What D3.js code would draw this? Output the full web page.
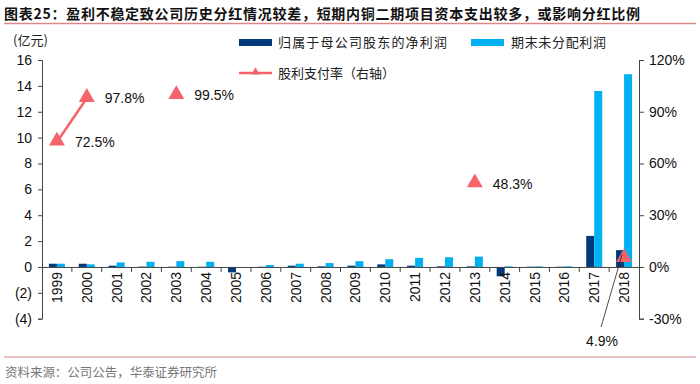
<!DOCTYPE html>
<html>
<head>
<meta charset="utf-8">
<script src="https://cdn.jsdelivr.net/npm/d3@7"></script>
<style>
  body { margin: 0; background: #fff; }
  svg { display: block; font-family: "Liberation Sans", Arial, "Noto Sans CJK SC", sans-serif; }
  .cjk { font-family: "Noto Sans CJK SC", sans-serif; }
</style>
</head>
<body>
<div id="chart"></div>
<script>
// Chart data
const years = ['1999','2000','2001','2002','2003','2004','2005','2006','2007','2008',
               '2009','2010','2011','2012','2013','2014','2015','2016','2017','2018'];
const netProfit = [0.25, 0.25, 0.1, 0.03, 0.02, 0.02, -0.42, 0.02, 0.1, 0.05,
                   0.1, 0.2, 0.1, 0.05, 0.05, -0.72, 0.02, 0.02, 2.4, 1.3];
const retained = [0.25, 0.2, 0.35, 0.4, 0.45, 0.4, 0.0, 0.15, 0.25, 0.3,
                  0.45, 0.6, 0.7, 0.75, 0.8, 0.05, 0.05, 0.05, 13.6, 14.9];
const payout = [72.5, 97.8, null, null, 99.5, null, null, null, null, null,
                null, null, null, null, 48.3, null, null, null, null, 4.9];
const leftTicks = [-4, -2, 0, 2, 4, 6, 8, 10, 12, 14, 16];
const rightTicks = [-30, 0, 30, 60, 90, 120];

const title = '图表25：盈利不稳定致公司历史分红情况较差，短期内铜二期项目资本支出较多，或影响分红比例';
const source = '资料来源：公司公告，华泰证券研究所';

const W = 700, H = 384;
const darkBlue = '#003A7A', lightBlue = '#00B0F0', red = '#F4646A';

const svg = d3.select('#chart').append('svg')
  .attr('width', W).attr('height', H);

// title + rules
svg.append('text').attr('class', 'cjk')
  .attr('x', 4).attr('y', 19)
  .attr('font-size', 14).attr('font-weight', 'bold').attr('fill', '#111')
  .attr('textLength', 636).attr('lengthAdjust', 'spacing')
  .text(title);
svg.append('line').attr('x1', 4).attr('x2', 696).attr('y1', 23.5).attr('y2', 23.5)
  .attr('stroke', '#D98A86').attr('stroke-width', 1.5);
svg.append('line').attr('x1', 4).attr('x2', 696).attr('y1', 357).attr('y2', 357)
  .attr('stroke', '#D98A86').attr('stroke-width', 1.2);
svg.append('text').attr('class', 'cjk')
  .attr('x', 5).attr('y', 377)
  .attr('font-size', 12.5).attr('fill', '#777')
  .attr('textLength', 212).attr('lengthAdjust', 'spacing')
  .text(source);

// scales
const x0 = 42, x1 = 639;
const x = d3.scaleBand().domain(years).range([x0, x1]);
const yL = d3.scaleLinear().domain([-4, 16]).range([318.7, 60]);
const yR = d3.scaleLinear().domain([-30, 120]).range([318.7, 60]);

// unit label
svg.append('text').attr('class', 'cjk')
  .attr('x', 13).attr('y', 45).attr('font-size', 13).attr('fill', '#222')
  .text('(亿元)');

// left axis
const leftAxis = d3.axisLeft(yL).tickValues(leftTicks).tickSize(4)
  .tickFormat(d => d < 0 ? `(${-d})` : d);
const gl = svg.append('g').attr('transform', `translate(${x0},0)`).call(leftAxis);
gl.select('.domain').attr('stroke', '#444');
gl.selectAll('.tick line').attr('stroke', '#444');
gl.selectAll('.tick text').attr('font-size', 14).attr('fill', '#111')
  .attr('font-family', '"Liberation Sans", Arial, sans-serif').attr('x', -10);

// right axis
const rightAxis = d3.axisRight(yR).tickValues(rightTicks).tickSize(5)
  .tickFormat(d => d + '%');
const gr = svg.append('g').attr('transform', `translate(${x1},0)`).call(rightAxis);
gr.select('.domain').attr('stroke', '#444');
gr.selectAll('.tick line').attr('stroke', '#444');
gr.selectAll('.tick text').attr('font-size', 14).attr('fill', '#111')
  .attr('font-family', '"Liberation Sans", Arial, sans-serif').attr('x', 10);

// bars
const bw = 8;
svg.append('g').selectAll('rect.np').data(years).join('rect')
  .attr('x', d => x(d) + x.bandwidth() / 2 - bw)
  .attr('y', (d, i) => yL(Math.max(0, netProfit[i])))
  .attr('width', bw)
  .attr('height', (d, i) => Math.abs(yL(netProfit[i]) - yL(0)))
  .attr('fill', darkBlue);
svg.append('g').selectAll('rect.re').data(years).join('rect')
  .attr('x', d => x(d) + x.bandwidth() / 2)
  .attr('y', (d, i) => yL(Math.max(0, retained[i])))
  .attr('width', bw)
  .attr('height', (d, i) => Math.abs(yL(retained[i]) - yL(0)))
  .attr('fill', lightBlue);

// x axis at zero
const xAxis = d3.axisBottom(x).tickSize(0).tickFormat('');
const gx = svg.append('g').attr('transform', `translate(0,${yL(0)})`).call(xAxis);
gx.select('.domain').attr('stroke', '#444');
// ticks at band boundaries
const bounds = years.map(d => x(d)).slice(1);
gx.selectAll('line.bt').data(bounds).join('line')
  .attr('x1', d => d).attr('x2', d => d).attr('y1', 0).attr('y2', 5)
  .attr('stroke', '#444');
// rotated year labels
svg.append('g').selectAll('text.yr').data(years).join('text')
  .attr('transform', d => `translate(${x(d) + x.bandwidth() / 2 + 5},${yL(0) + 5}) rotate(-90)`)
  .attr('text-anchor', 'end')
  .attr('font-size', 14).attr('fill', '#111')
  .text(d => d);

// payout line (only adjacent values connected)
const line = d3.line()
  .defined(d => d.v != null)
  .x(d => x(d.yr) + x.bandwidth() / 2)
  .y(d => yR(d.v));
const pts = years.map((yr, i) => ({ yr, v: payout[i] }));
svg.append('path').datum(pts)
  .attr('d', line).attr('fill', 'none')
  .attr('stroke', red).attr('stroke-width', 2.5);

const tri = d3.symbol().type(d3.symbolTriangle).size(110);
const valid = pts.filter(d => d.v != null);
svg.append('g').selectAll('path.tri').data(valid).join('path')
  .attr('d', tri)
  .attr('transform', d => `translate(${x(d.yr) + x.bandwidth() / 2},${yR(d.v) - 1})`)
  .attr('fill', red);

// value labels
const lab = svg.append('g').attr('font-size', 14).attr('fill', '#111');
valid.forEach(d => {
  const cx = x(d.yr) + x.bandwidth() / 2;
  if (d.yr === '2018') {
    lab.append('line')
      .attr('x1', cx - 2).attr('y1', yR(d.v) - 4)
      .attr('x2', cx - 23).attr('y2', 327)
      .attr('stroke', '#222').attr('stroke-width', 0.8);
    lab.append('text').attr('x', cx - 22).attr('y', 346)
      .attr('text-anchor', 'middle').text(d.v + '%');
  } else {
    lab.append('text').attr('x', cx + 18).attr('y', yR(d.v) + 5)
      .text(d.v.toFixed(1) + '%');
  }
});

// legend
const lg = svg.append('g').attr('class', 'cjk').attr('font-size', 13).attr('fill', '#222');
lg.append('rect').attr('x', 239).attr('y', 39).attr('width', 33).attr('height', 7).attr('fill', darkBlue);
lg.append('text').attr('x', 278).attr('y', 47).attr('textLength', 169).attr('lengthAdjust', 'spacing')
  .text('归属于母公司股东的净利润');
lg.append('rect').attr('x', 471).attr('y', 39).attr('width', 33).attr('height', 7).attr('fill', lightBlue);
lg.append('text').attr('x', 511).attr('y', 47).attr('textLength', 95).attr('lengthAdjust', 'spacing')
  .text('期末未分配利润');
lg.append('line').attr('x1', 239).attr('x2', 272).attr('y1', 73).attr('y2', 73)
  .attr('stroke', red).attr('stroke-width', 2.5);
lg.append('path').attr('d', d3.symbol().type(d3.symbolTriangle).size(30))
  .attr('transform', 'translate(255.5,72)').attr('fill', red);
lg.append('text').attr('x', 278).attr('y', 78).text('股利支付率（右轴）');
</script>
</body>
</html>
